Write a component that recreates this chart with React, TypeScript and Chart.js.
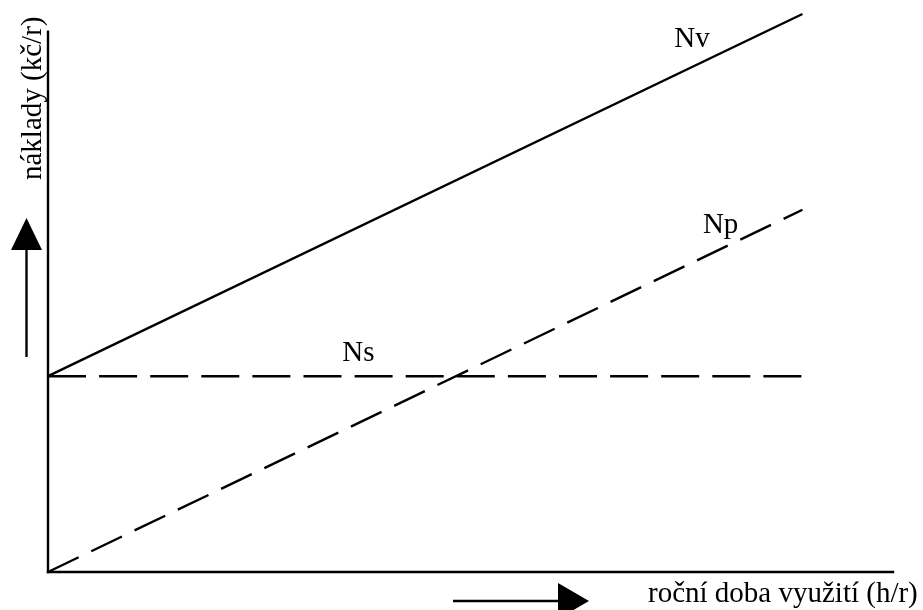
import React, { useEffect, useRef } from "react";
import { Chart, registerables } from "chart.js";

Chart.register(...registerables);

// Data (abstract units)
const xEnds = [0, 100];
const nvValues = [100, 285];
const npValues = [0, 185];
const nsValues = [100, 100];
const xAxisExtent = [0, 112];
const yAxisExtent = [0, 276];

const seriesLabels = ["Nv", "Np", "Ns"];
const labelAnchors = [
  { x: 83, y: 268 },
  { x: 86.8, y: 173 },
  { x: 39, y: 108 },
];
const yTitle = "náklady (kč/r)";
const xTitle = "roční doba využití (h/r)";

const FONT = "29px 'Liberation Serif', 'Times New Roman', serif";
const LW = 2.4;

const decorPlugin = {
  id: "decor",
  afterDatasetsDraw(chart: any) {
    const { ctx, scales } = chart;
    const xs = scales.x;
    const ys = scales.y;
    ctx.save();
    ctx.fillStyle = "#000";
    ctx.strokeStyle = "#000";
    ctx.font = FONT;
    ctx.textBaseline = "alphabetic";
    ctx.textAlign = "left";
    seriesLabels.forEach((t, i) => {
      const a = labelAnchors[i];
      ctx.fillText(t, xs.getPixelForValue(a.x), ys.getPixelForValue(a.y));
    });

    // y title (rotated)
    ctx.save();
    ctx.translate(41, 180);
    ctx.rotate(-Math.PI / 2);
    ctx.fillText(yTitle, 0, 0);
    ctx.restore();

    // x title
    ctx.fillText(xTitle, 648, 602);

    // up arrow
    ctx.lineWidth = LW;
    ctx.beginPath();
    ctx.moveTo(26.5, 357);
    ctx.lineTo(26.5, 248);
    ctx.stroke();
    ctx.beginPath();
    ctx.moveTo(11, 250);
    ctx.lineTo(42, 250);
    ctx.lineTo(26.5, 218);
    ctx.closePath();
    ctx.fill();

    // right arrow
    ctx.beginPath();
    ctx.moveTo(453, 601);
    ctx.lineTo(560, 601);
    ctx.stroke();
    ctx.beginPath();
    ctx.moveTo(558, 583);
    ctx.lineTo(558, 619);
    ctx.lineTo(589, 601);
    ctx.closePath();
    ctx.fill();
    ctx.restore();
  },
};

export default function App() {
  const ref = useRef<HTMLCanvasElement | null>(null);
  useEffect(() => {
    if (!ref.current) return;
    const mk = (ys: number[]) => xEnds.map((x, i) => ({ x, y: ys[i] }));
    const base = {
      pointRadius: 0,
      pointHoverRadius: 0,
      borderColor: "#000",
      borderWidth: LW,
      tension: 0,
      fill: false,
      clip: false as any,
      borderCapStyle: "butt" as const,
    };
    const chart = new Chart(ref.current, {
      type: "line",
      data: {
        datasets: [
          {
            ...base,
            label: "xaxis",
            data: xAxisExtent.map((x) => ({ x, y: 0 })),
            borderCapStyle: "square",
          },
          {
            ...base,
            label: "yaxis",
            data: yAxisExtent.map((y) => ({ x: 0, y })),
            borderCapStyle: "square",
          },
          { ...base, label: "Nv", data: mk(nvValues) },
          { ...base, label: "Np", data: mk(npValues), borderDash: [34, 14] },
          { ...base, label: "Ns", data: mk(nsValues), borderDash: [38, 13.1] },
        ],
      },
      options: {
        animation: false,
        responsive: false,
        events: [],
        layout: { padding: { left: 48, right: 30, top: 12, bottom: 38 } },
        plugins: { legend: { display: false }, tooltip: { enabled: false } },
        scales: {
          x: { type: "linear", min: 0, max: 112, display: false },
          y: { type: "linear", min: 0, max: 286, display: false },
        },
      },
      plugins: [decorPlugin],
    });
    return () => chart.destroy();
  }, []);
  return (
    <div style={{ position: "fixed", left: 0, top: 0, width: 923, height: 610, background: "#fff" }}>
      <canvas ref={ref} width={923} height={610} style={{ display: "block" }} />
    </div>
  );
}
